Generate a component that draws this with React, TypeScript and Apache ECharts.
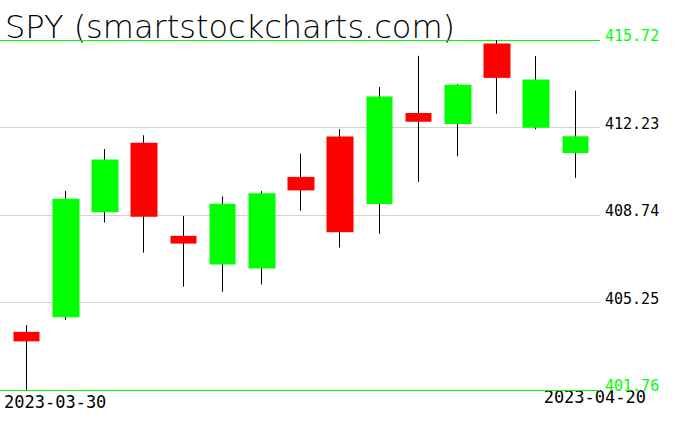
import React, { useEffect, useRef } from "react";
import * as echarts from "echarts";

const titleText = "SPY (smartstockcharts.com)";
const dates = [
  "2023-03-30", "2023-03-31", "2023-04-03", "2023-04-04", "2023-04-05",
  "2023-04-06", "2023-04-10", "2023-04-11", "2023-04-12", "2023-04-13",
  "2023-04-14", "2023-04-17", "2023-04-18", "2023-04-19", "2023-04-20",
];
const openPrices = [404.08, 404.66, 408.85, 411.62, 407.91, 406.77, 406.61, 410.26, 411.87, 409.18, 412.81, 412.37, 415.58, 412.22, 411.21];
const closePrices = [403.70, 409.39, 410.95, 408.67, 407.60, 409.19, 409.61, 409.72, 408.05, 413.47, 412.46, 413.94, 414.21, 414.14, 411.88];
const lowPrices = [401.76, 404.55, 408.44, 407.24, 405.88, 405.68, 405.97, 408.91, 407.44, 407.99, 410.06, 411.08, 412.78, 412.16, 410.22];
const highPrices = [404.35, 409.70, 411.37, 411.92, 408.70, 409.48, 409.69, 411.18, 412.17, 413.84, 415.09, 413.96, 415.72, 415.08, 413.70];
const yTicks = [401.76, 405.25, 408.74, 412.23, 415.72];
const dateLabels = ["2023-03-30", "2023-04-20"];

export default function App() {
  const ref = useRef<HTMLDivElement>(null);
  useEffect(() => {
    const chart = echarts.init(ref.current!, null, { renderer: "svg" });
    const yMin = yTicks[0];
    const yMax = yTicks[yTicks.length - 1];
    const interval = +(yTicks[1] - yTicks[0]).toFixed(2);
    const wickData = dates.map((_, i) => [openPrices[i], closePrices[i], lowPrices[i], highPrices[i]]);
    const bodyData = dates.map((_, i) => [
      openPrices[i],
      closePrices[i],
      Math.min(openPrices[i], closePrices[i]),
      Math.max(openPrices[i], closePrices[i]),
    ]);
    const lineColors = yTicks.map((_, i) => (i === 0 || i === yTicks.length - 1 ? "#00ff00" : "#d3d3d3"));
    chart.setOption({
      animation: false,
      backgroundColor: "#ffffff",
      grid: [
        { left: 0, right: 76, top: 40, bottom: 41 },
        { left: 7, right: 81, top: 40, bottom: 41 },
      ],
      xAxis: [
        { gridIndex: 0, type: "value", min: 0, max: 1, show: false },
        { gridIndex: 1, type: "category", data: dates, boundaryGap: true, show: false },
      ],
      yAxis: [
        {
          gridIndex: 0,
          type: "value",
          position: "right",
          min: yMin,
          max: yMax,
          interval: interval,
          axisLine: { show: false },
          axisTick: { show: false },
          splitLine: { show: true, lineStyle: { color: lineColors, width: 1 } },
          axisLabel: {
            show: true,
            margin: 5,
            showMinLabel: true,
            showMaxLabel: true,
            fontFamily: "DejaVu Sans Mono",
            fontSize: 15,
            lineHeight: 8,
            verticalAlign: "bottom",
            color: (_v: any, i: number) => (i === 0 || i === yTicks.length - 1 ? "#00ff00" : "#000000"),
            formatter: (v: number) => Number(v).toFixed(2),
          },
        },
        { gridIndex: 1, type: "value", min: yMin, max: yMax, show: false },
      ],
      graphic: [
        {
          type: "text",
          x: 5,
          y: 27,
          silent: true,
          style: {
            text: titleText,
            fill: "#000000",
            fontFamily: "DejaVu Sans",
            fontWeight: 200,
            fontSize: 32,
            align: "left",
            verticalAlign: "middle",
          },
        },
        {
          type: "text",
          x: 4,
          y: 402,
          silent: true,
          style: {
            text: dateLabels[0],
            fill: "#000000",
            fontFamily: "DejaVu Sans Mono",
            fontSize: 17,
            align: "left",
            verticalAlign: "middle",
          },
        },
        {
          type: "text",
          x: 646,
          y: 397,
          silent: true,
          style: {
            text: dateLabels[1],
            fill: "#000000",
            fontFamily: "DejaVu Sans Mono",
            fontSize: 17,
            align: "right",
            verticalAlign: "middle",
          },
        },
      ],
      series: [
        {
          type: "candlestick",
          xAxisIndex: 1,
          yAxisIndex: 1,
          data: wickData,
          barWidth: 1,
          silent: true,
          z: 2,
          itemStyle: { color: "#000000", color0: "#000000", borderColor: "#000000", borderColor0: "#000000", borderWidth: 1 },
        },
        {
          type: "candlestick",
          xAxisIndex: 1,
          yAxisIndex: 1,
          data: bodyData,
          barWidth: 27,
          silent: true,
          z: 3,
          itemStyle: { color: "#00ff00", color0: "#ff0000", borderColor: "#00ff00", borderColor0: "#ff0000", borderWidth: 0 },
        },
      ],
    });
    return () => chart.dispose();
  }, []);
  return <div ref={ref} style={{ position: "absolute", left: 0, top: 0, width: 676, height: 431 }} />;
}
